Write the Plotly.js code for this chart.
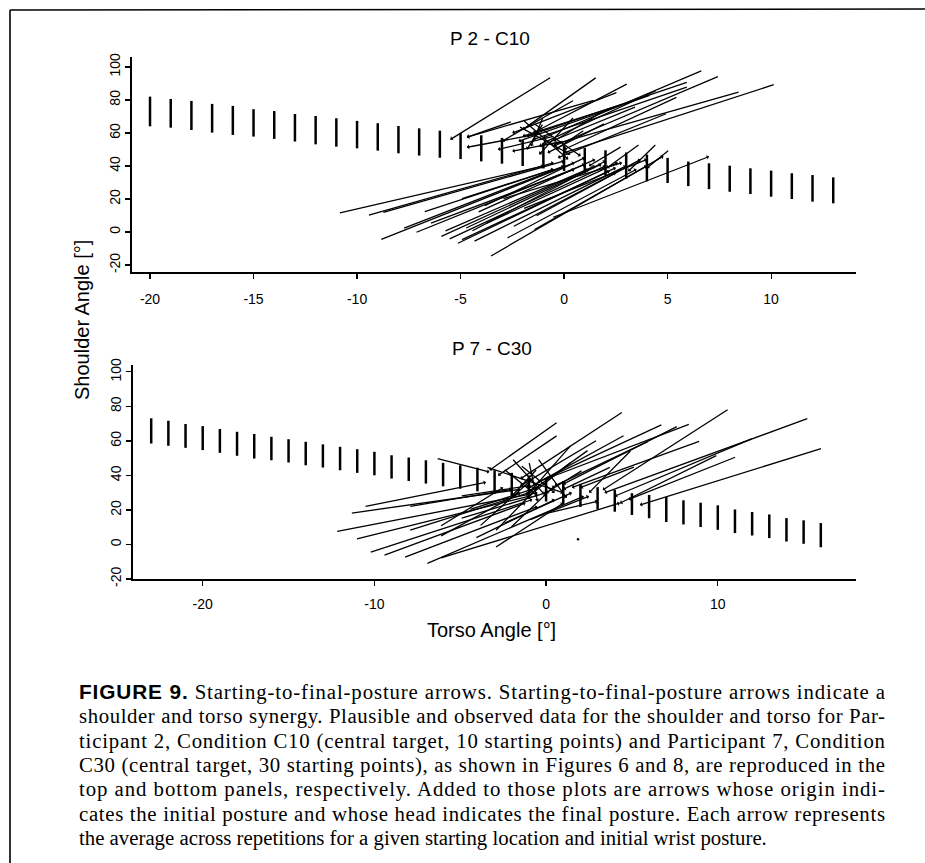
<!DOCTYPE html>
<html>
<head>
<meta charset="utf-8">
<script src="https://cdn.plot.ly/plotly-3.0.1.min.js"></script>
<style>
html,body{margin:0;padding:0;background:#fff;}
#chart{width:925px;height:863px;}
</style>
</head>
<body>
<div id="chart"></div>
<script>
// ---------- DATA ----------
// Top panel (P 2 - C10): plausible posture bars
const topBarX  = [-20,-19,-18,-17,-16,-15,-14,-13,-12,-11,-10,-9,-8,-7,-6,-5,-4,-3,-2,-1,0,1,2,3,4,5,6,7,8,9,10,11,12,13];
const topBarHi = [82,80.6,79.4,77.6,76.4,74.4,73.3,71.5,70.3,68.9,67.3,65.9,64.2,62.8,61.4,60,58.6,57,55.6,54,52.6,51,49.5,48.2,46.9,44.9,42.7,41.6,40.2,38.6,37.2,35.6,34.5,33.1];
const topBarLo = [64,63.2,61.8,60.2,58.8,57.8,56.4,54.8,53.1,51.7,50.7,49.3,47.7,46.3,45,44.2,42.8,41.4,40,38.5,37,35.5,34,32.3,30.7,29.7,27.8,26,24.4,23,21.4,20,18.4,17.4];

// Top panel arrows: start (initial posture) -> head (final posture)
const topStartX = [-0.6,1.6,3.1,6.7,7.5,6.0,10.2,2.6,4.2,1.5,5.0,3.5,0.5,-2.2,-1.5,-10.9,-8.8,-8.9,-7.2,-5.8,-5.6,-5.2,-4.5,-4.2,-3.9,-3.6,-0.6,-1.4,-6.5,-2.5,-5.0,-3.0,-2.0,3.67,4.48,5.1,2.8,-2.5,-1.0,-0.5,0.0,2.0,-1.0,1.0,
                   -2.0,-1.0,0.5,2.0,4.5,6.0,5.5,3.0,8.5,-6.0,-5.0,-4.8,-4.4,-3.8,-2.8,-1.5,-9.5,-7.8,-6.8];
const topStartY = [94,94,90,98,94.5,91,89.5,84.8,83,80,72,76,80,64,66,11.4,11.6,-4.8,-0.5,0.3,-4.6,-7.2,0.3,11.8,15.5,-15,8.6,9.4,5,3,20,20,14,53.4,53.6,50,52,67,60,58,55,66,70,62,
                   68,66,70,74,86,88,82,78,85,-3,-5,2,-6,5,-4,1,10,2,12];
const topHeadX  = [-5.5,-2.0,-1.5,-1.0,-0.5,-1.8,0.0,-2.5,-2.2,-4.7,-0.3,-1.2,-3.0,0.3,0.8,-1.0,0.0,0.5,1.0,1.5,2.0,2.5,2.0,1.5,1.0,4.8,7.0,3.7,0.5,2.5,-0.5,2.8,4.0,2.06,3.1,4.0,1.2,-4.7,-4.7,-3.2,-2.5,-0.8,-1.6,-0.4,
                   0.2,-1.8,-1.2,-0.5,-1.0,-1.5,0.0,-2.0,-0.5,1.2,2.2,1.8,3.0,2.6,3.5,4.0,-0.5,0.0,-0.5];
const topHeadY  = [56,62,60,57,52,58,48,60,55,57.4,45,52,55,47,46,40,43,42,41,40,40,39,43,44,45,46,45.7,44,38,36,38,42,44,38.8,36.8,38.8,40,57.4,51.3,50,49,48,52,50,
                   44,50,47,55,54,56,50,58,53,38,37,41,40,42,38,40,42,40,38];

// Bottom panel (P 7 - C30): plausible posture bars
const botBarX  = [-23,-22,-21,-20,-19,-18,-17,-16,-15,-14,-13,-12,-11,-10,-9,-8,-7,-6,-5,-4,-3,-2,-1,0,1,2,3,4,5,6,7,8,9,10,11,12,13,14,15,16];
const botBarHi = [73.1,71.7,69.8,68.6,66.9,65.3,64,62.4,61,59.5,58,56.6,55.2,53.7,51.7,50.4,48.8,47.3,45.9,44.5,43,41.5,40,38.4,36.8,34.8,33.2,31.6,29.7,28.7,27.5,25.6,24.2,22.7,20.3,18.8,17.4,15.3,14,12.4];
const botBarLo = [58.5,57.2,56,54.7,53.1,51.4,49.8,48.8,47.5,45.9,44.6,43,41.5,40.1,38.2,36.8,35.3,33.7,32.3,30.8,29.4,27.9,26.3,24.9,23.4,21.8,20.3,19,17.1,15.2,13,11.6,10.1,8.5,6.6,5.2,3.7,1.7,0.4,-1.6];

// Bottom panel arrows
const botStartX = [-11.4,-10.6,-12.25,-11.1,-10.3,-9.5,-8.3,-7.0,-6.2,-3.9,-3.0,-2.1,-6.2,-6.2,-6.4,-5.0,0.7,0.7,4.5,10.66,15.3,12.06,16.1,8.4,7.7,6.8,4.6,10.0,11.1,3.8,2.15,3.0,5.2,-4.15,-8.0,-2.5,-1.5,1.5,-0.5,
                   -2.0,-1.0,-3.5,-0.5,2.5,1.5,6.0,9.0,5.0,-5.0,-8.0,-4.5,-2.5,-1.0,0.0,-3.0];
const botStartY = [18.1,21.9,7.4,3.0,-4.7,-6.5,-7.6,-11.3,-8,10.3,7.4,9.4,4.5,10.3,50,28,71.2,63.5,77,78.6,73.2,61.6,55.8,69.9,68.7,69.7,63.5,51.9,50.9,45.1,43.2,60.6,45.1,3.6,22,44,46,48,50,
                   50,48,45,44,55,58,60,60,55,15,8,20,12,14,18,-2];
const botHeadX  = [-1.5,-3.5,-0.5,-1.0,-0.8,-1.2,-0.5,2.2,4.3,-0.8,-0.3,0.5,-1.5,-2.5,-3.3,-1.0,-3.3,-2.8,-1.5,3.3,3.4,4.0,5.46,0.0,1.0,-0.5,-1.0,4.3,4.8,1.0,0.0,-1.5,2.0,0.5,-2.0,-0.5,0.5,-1.0,1.2,
                   0.0,-0.5,1.0,-2.0,-1.0,-0.8,0.5,1.5,2.5,0.0,-1.0,-0.5,1.5,2.5,3.0,1.0];
const botHeadY  = [32,36,30,28,26,24,22,28,24,38,35,34,30,33,42,34,43,40,38,31.6,30,28,22.9,38,35,36,33,23.9,26,32,30,34,33,26,32,28,30,28,27,
                   28,25,30,28,30,32,34,33,30,30,30,33,30,28,25,24];

const botDotX = [1.86];
const botDotY = [3.0];

// Tick values and labels
const topXTicks = [-20,-15,-10,-5,0,5,10];
const topXLabels = ["-20","-15","-10","-5","0","5","10"];
const botXTicks = [-20,-10,0,10];
const botXLabels = ["-20","-10","0","10"];
const yTicks = [-20,0,20,40,60,80,100];
const yLabels = ["-20","0","20","40","60","80","100"];

// Text
const topTitle = "P 2 - C10";
const botTitle = "P 7 - C30";
const yTitle = "Shoulder Angle [°]";
const xTitle = "Torso Angle [°]";
const captionLines = [
  "<span style=\"font-family:'Liberation Sans',Arial,sans-serif;font-weight:bold\">FIGURE 9.</span> Starting-to-final-posture arrows. Starting-to-final-posture arrows indicate a",
  "shoulder and torso synergy. Plausible and observed data for the shoulder and torso for Par-",
  "ticipant 2, Condition C10 (central target, 10 starting points) and Participant 7, Condition",
  "C30 (central target, 30 starting points), as shown in Figures 6 and 8, are reproduced in the",
  "top and bottom panels, respectively. Added to those plots are arrows whose origin indi-",
  "cates the initial posture and whose head indicates the final posture. Each arrow represents",
  "the average across repetitions for a given starting location and initial wrist posture."
];

// ---------- BUILD ----------
const W = 925, H = 863;
const px = v => v / W;
const py = v => 1 - v / H;

function barTrace(xs, lo, hi, xa, ya) {
  const X = [], Y = [];
  for (let i = 0; i < xs.length; i++) {
    X.push(xs[i], xs[i], null);
    Y.push(lo[i], hi[i], null);
  }
  return {type: 'scatter', mode: 'lines', x: X, y: Y, xaxis: xa, yaxis: ya,
          line: {color: '#000', width: 2.5}, hoverinfo: 'skip', showlegend: false};
}

function arrowAnns(sx, sy, hx, hy, xr, yr) {
  const out = [];
  for (let i = 0; i < sx.length; i++) {
    out.push({x: hx[i], y: hy[i], ax: sx[i], ay: sy[i], xref: xr, yref: yr, axref: xr, ayref: yr,
      text: '', showarrow: true, arrowhead: 1, arrowsize: 0.6, arrowwidth: 1.3, arrowcolor: '#000', standoff: 0, startstandoff: 0});
  }
  return out;
}

const traces = [
  barTrace(topBarX, topBarLo, topBarHi, 'x', 'y'),
  barTrace(botBarX, botBarLo, botBarHi, 'x2', 'y2'),
  {type: 'scatter', mode: 'markers', x: botDotX, y: botDotY, xaxis: 'x2', yaxis: 'y2',
   marker: {color: '#000', size: 2.5}, hoverinfo: 'skip', showlegend: false}
];

const axBase = {
  showgrid: false, zeroline: false, showline: true, linecolor: '#000', linewidth: 1.8,
  ticks: 'outside', ticklen: 5, tickwidth: 1.2, tickcolor: '#000', tickmode: 'array',
  tickfont: {family: "'Liberation Sans', Arial, sans-serif", size: 14, color: '#000'},
  fixedrange: true
};

const annotations = [];
annotations.push(...arrowAnns(topStartX, topStartY, topHeadX, topHeadY, 'x', 'y'));
annotations.push(...arrowAnns(botStartX, botStartY, botHeadX, botHeadY, 'x2', 'y2'));

const sansFont = "'Liberation Sans', Arial, sans-serif";
annotations.push({text: topTitle, xref: 'paper', yref: 'paper', x: px(490), y: py(38), showarrow: false,
  xanchor: 'center', yanchor: 'middle', font: {family: sansFont, size: 19, color: '#000'}});
annotations.push({text: botTitle, xref: 'paper', yref: 'paper', x: px(492), y: py(348), showarrow: false,
  xanchor: 'center', yanchor: 'middle', font: {family: sansFont, size: 19, color: '#000'}});
annotations.push({text: yTitle, xref: 'paper', yref: 'paper', x: px(82), y: py(320), showarrow: false,
  textangle: -90, xanchor: 'center', yanchor: 'middle', font: {family: sansFont, size: 20, color: '#000'}});
annotations.push({text: xTitle, xref: 'paper', yref: 'paper', x: px(491), y: py(630), showarrow: false,
  xanchor: 'center', yanchor: 'middle', font: {family: sansFont, size: 20, color: '#000'}});

const captionY = [691.7, 716, 740.5, 765, 789.3, 814, 838.3];
const captionStart = annotations.length;
captionLines.forEach((t, i) => {
  annotations.push({text: t, xref: 'paper', yref: 'paper', x: px(77), y: py(captionY[i]), showarrow: false,
    xanchor: 'left', yanchor: 'middle', align: 'left',
    font: {family: "'Liberation Serif', 'Times New Roman', serif", size: 20.8, color: '#000'}});
});

const layout = {
  width: W, height: H, autosize: false,
  margin: {l: 0, r: 0, t: 0, b: 0, pad: 0},
  paper_bgcolor: '#fff', plot_bgcolor: 'rgba(0,0,0,0)',
  showlegend: false,
  xaxis: Object.assign({}, axBase, {domain: [px(132), px(856)], range: [-20.87, 14.1], tickvals: topXTicks, ticktext: topXLabels, ticklabelstandoff: 8, anchor: 'y'}),
  yaxis: Object.assign({}, axBase, {domain: [py(272), py(57)], range: [-24.2, 106], tickvals: yTicks, ticktext: yLabels, tickangle: -90, anchor: 'x'}),
  xaxis2: Object.assign({}, axBase, {domain: [px(133), px(856)], range: [-24.06, 18.05], tickvals: botXTicks, ticktext: botXLabels, ticklabelstandoff: 6, anchor: 'y2'}),
  yaxis2: Object.assign({}, axBase, {domain: [py(579), py(365)], range: [-20, 104], tickvals: yTicks, ticktext: yLabels, tickangle: -90, anchor: 'x2'}),
  annotations: annotations,
  shapes: [
    {type: 'line', xref: 'paper', yref: 'paper', x0: px(10), x1: px(10), y0: py(10), y1: 0, line: {color: '#000', width: 1.6}},
    {type: 'line', xref: 'paper', yref: 'paper', x0: px(10), x1: 1, y0: py(10), y1: py(9), line: {color: '#000', width: 1.6}}
  ]
};

Plotly.newPlot('chart', traces, layout, {staticPlot: true, displayModeBar: false}).then(gd => {
  // justify caption lines (except the last one) to the typeset width
  const groups = gd.querySelectorAll('.annotation');
  groups.forEach(g => {
    const idx = +g.getAttribute('data-index');
    const k = idx - captionStart;
    if (k >= 0 && k < captionLines.length - 1) {
      const t = g.querySelector('text.annotation-text');
      if (t) {
        t.setAttribute('textLength', String(883 - 77));
        t.setAttribute('lengthAdjust', 'spacing');
      }
    }
  });
});
</script>
</body>
</html>
